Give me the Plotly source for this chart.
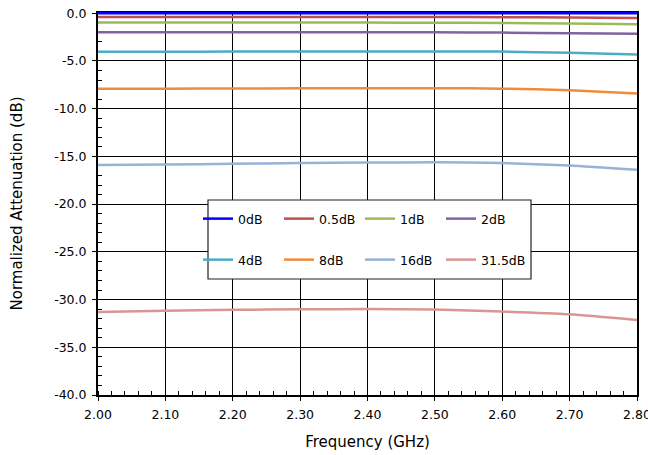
import plotly.graph_objects as go

freq = [2.00, 2.10, 2.20, 2.30, 2.40, 2.50, 2.60, 2.70, 2.80]
att_0dB = [0.0, 0.0, 0.0, 0.0, 0.0, 0.0, 0.0, 0.0, 0.0]
att_05dB = [-0.39, -0.39, -0.39, -0.39, -0.39, -0.39, -0.41, -0.45, -0.49]
att_1dB = [-0.98, -0.98, -0.98, -0.98, -0.98, -0.99, -1.02, -1.08, -1.15]
att_2dB = [-1.99, -1.99, -1.99, -1.98, -1.98, -1.99, -2.03, -2.09, -2.16]
att_4dB = [-4.04, -4.03, -4.02, -4.01, -4.0, -4.0, -4.02, -4.15, -4.32]
att_8dB = [-7.92, -7.9, -7.88, -7.87, -7.86, -7.85, -7.9, -8.07, -8.4]
att_16dB = [-15.9, -15.85, -15.78, -15.7, -15.65, -15.62, -15.7, -15.95, -16.4]
att_315dB = [-31.3, -31.18, -31.08, -31.02, -31.0, -31.05, -31.25, -31.55, -32.15]

series_names = ["0dB", "0.5dB", "1dB", "2dB", "4dB", "8dB", "16dB", "31.5dB"]
series_values = [att_0dB, att_05dB, att_1dB, att_2dB, att_4dB, att_8dB, att_16dB, att_315dB]
series_colors = ["#0000FF", "#C0504D", "#9BBB59", "#8064A2", "#4BACC6", "#F08B3A", "#95B3D7", "#D99694"]
series_legend = ["legend", "legend", "legend", "legend", "legend2", "legend2", "legend2", "legend3"]

x_ticks = [2.0, 2.1, 2.2, 2.3, 2.4, 2.5, 2.6, 2.7, 2.8]
x_ticklabels = ["2.00", "2.10", "2.20", "2.30", "2.40", "2.50", "2.60", "2.70", "2.80"]
y_ticks = [0, -5, -10, -15, -20, -25, -30, -35, -40]
y_ticklabels = ["0.0", "-5.0", "-10.0", "-15.0", "-20.0", "-25.0", "-30.0", "-35.0", "-40.0"]

FONT = "DejaVu Sans"
fig = go.Figure()
for name, vals, col, lg in zip(series_names, series_values, series_colors, series_legend):
    fig.add_trace(go.Scatter(
        x=freq, y=vals, name=name, mode="lines",
        line=dict(color=col, width=2.5, shape="spline", smoothing=0.6),
        legend=lg,
    ))

W, H = 648, 455
ml, mr, mt, mb = 98, 11, 12, 60
pw, ph = W - ml - mr, H - mt - mb
Y_TOP = 0.13  # small headroom so the 0 dB line is not cut in half by the plot edge

def px_x(p):
    return (p - ml) / pw

def px_y(p):
    return (H - mb - p) / ph

legend_common = dict(
    orientation="h", bgcolor="rgba(0,0,0,0)", borderwidth=0,
    font=dict(family=FONT, size=12.5, color="#000"),
    entrywidth=36, entrywidthmode="pixels",
    xanchor="left", yanchor="middle", itemclick=False, itemdoubleclick=False,
)
legend3_opts = dict(legend_common)
legend3_opts.pop("entrywidth")
legend3_opts.pop("entrywidthmode")

fig.update_layout(
    width=W, height=H,
    margin=dict(l=ml, r=mr, t=mt, b=mb, autoexpand=False),
    paper_bgcolor="white", plot_bgcolor="white",
    font=dict(family=FONT, size=12.5, color="#000"),
    showlegend=True,
    legend=dict(legend_common, x=px_x(198), y=px_y(219)),
    legend2=dict(legend_common, x=px_x(198), y=px_y(260)),
    legend3=dict(legend3_opts, x=px_x(198 + 3 * 81), y=px_y(260)),
    shapes=[dict(type="rect", xref="paper", yref="paper",
                 x0=px_x(208), x1=px_x(531), y0=px_y(279), y1=px_y(200),
                 fillcolor="white", line=dict(color="#222", width=1.2), layer="above")],
    xaxis=dict(
        range=[2.0, 2.8], tickvals=x_ticks, ticktext=x_ticklabels,
        showgrid=True, gridcolor="#000", gridwidth=1,
        showline=True, linecolor="#000", linewidth=1.5, mirror=True,
        ticks="outside", ticklen=4, tickcolor="#000", tickwidth=1,
        minor=dict(dtick=0.02, ticks="inside", ticklen=4, tickcolor="#000", showgrid=False),
        tickfont=dict(family=FONT, size=12.5), ticklabelstandoff=3,
        ticklabeloverflow="allow", layer="below traces",
        title=dict(text="Frequency (GHz)", standoff=16, font=dict(family=FONT, size=15)),
        zeroline=False, automargin=False,
    ),
    yaxis=dict(
        range=[-40, Y_TOP], tickvals=y_ticks, ticktext=y_ticklabels,
        showgrid=True, gridcolor="#000", gridwidth=1,
        showline=True, linecolor="#000", linewidth=2, mirror=True,
        ticks="outside", ticklen=4, tickcolor="#000", tickwidth=1,
        minor=dict(dtick=1, ticks="inside", ticklen=4, tickcolor="#000", showgrid=False),
        tickfont=dict(family=FONT, size=12.5), ticklabelstandoff=3,
        ticklabeloverflow="allow", layer="below traces",
        title=dict(text="Normalized Attenuation (dB)", standoff=28, font=dict(family=FONT, size=15)),
        zeroline=False, automargin=False,
    ),
)

fig.write_html(
    "out.html",
    config={"displayModeBar": False, "staticPlot": True},
    post_script="document.body.style.margin='0';document.body.style.overflow='hidden';",
)
